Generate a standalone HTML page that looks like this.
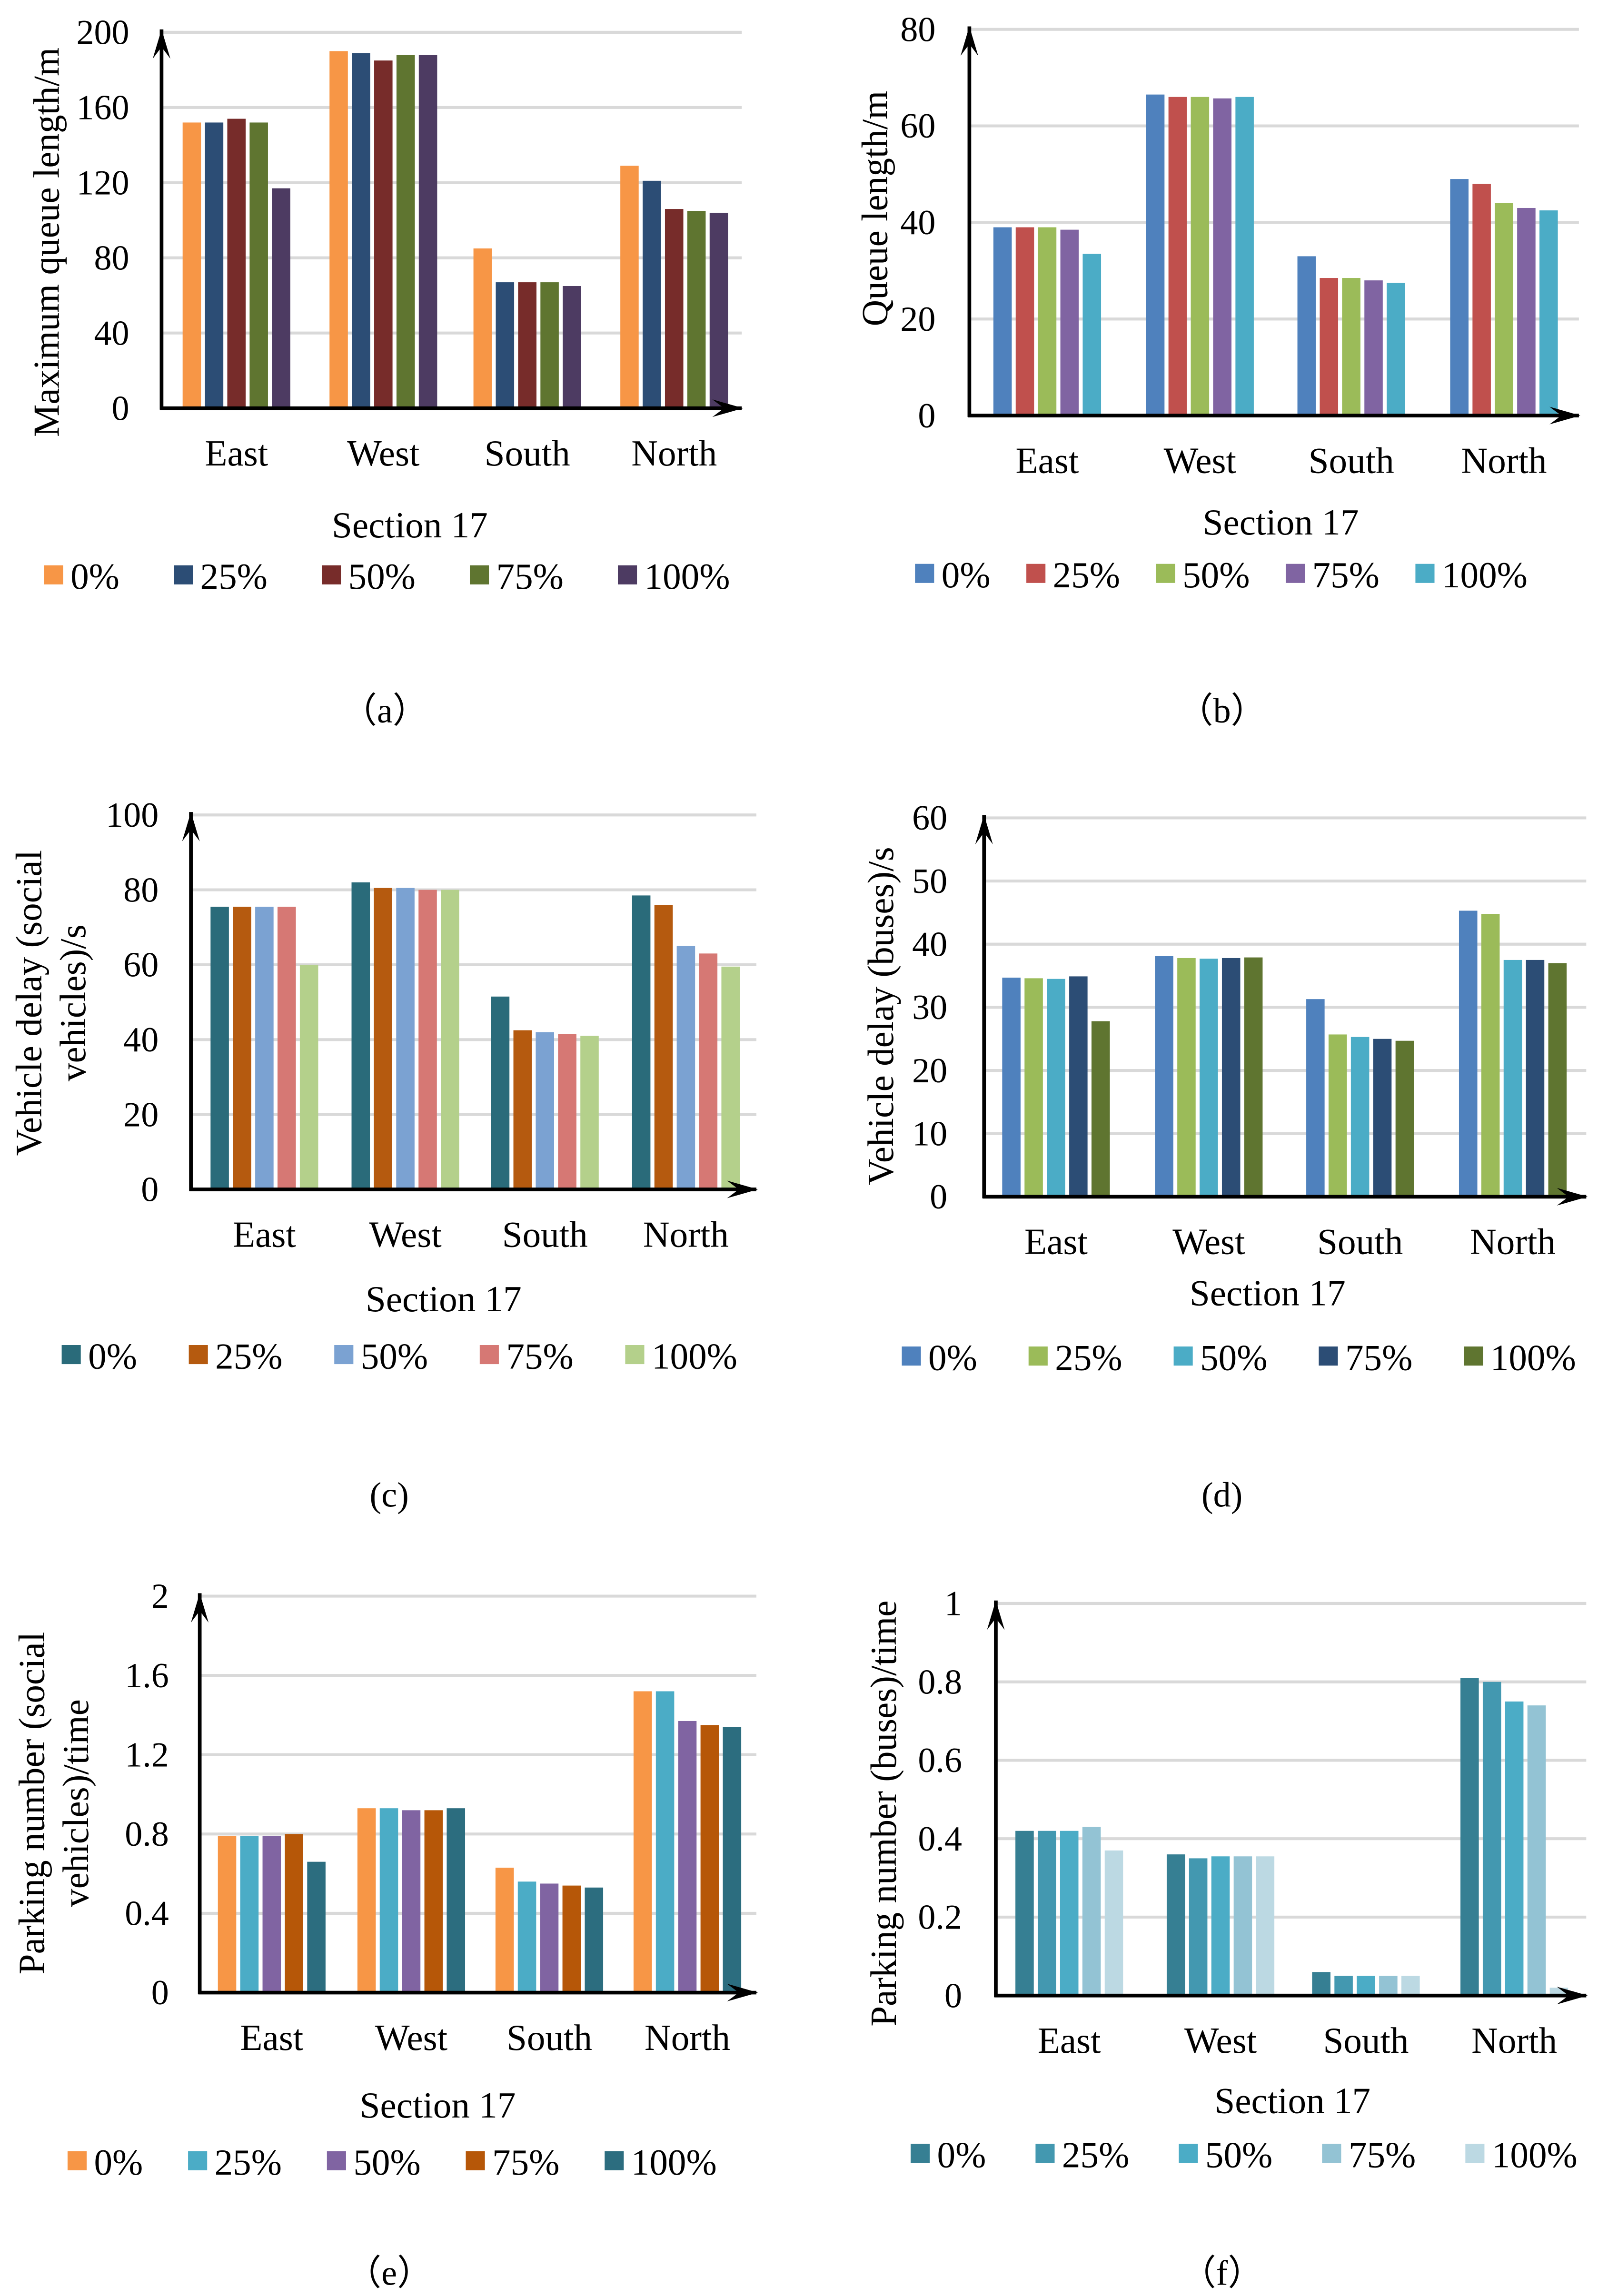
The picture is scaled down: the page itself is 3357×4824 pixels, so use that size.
<!DOCTYPE html>
<html><head><meta charset="utf-8"><style>
html,body{margin:0;padding:0;background:#fff;}
svg, svg text{font-family:"Liberation Serif","Times New Roman",Times,serif;}
</style></head><body>
<svg id="fig" width="3357" height="4819" viewBox="0 0 1088 1562" preserveAspectRatio="none" xmlns="http://www.w3.org/2000/svg"></svg>
<script>
const categories = ["East","West","South","North"];
const seriesNames = ["0%","25%","50%","75%","100%"];
// panel a: max queue length
const aValues = [[152,152,154,152,117],[190,189,185,188,188],[85,67,67,67,65],[129,121,106,105,104]];
const aTicks = [0,40,80,120,160,200];
// panel b: queue length
const bValues = [[39,39,39,38.5,33.5],[66.5,66,66,65.7,66],[33,28.5,28.5,28,27.5],[49,48,44,43,42.5]];
const bTicks = [0,20,40,60,80];
// panel c: vehicle delay social
const cValues = [[75.5,75.5,75.5,75.5,60],[82,80.5,80.5,80,80],[51.5,42.5,42,41.5,41],[78.5,76,65,63,59.5]];
const cTicks = [0,20,40,60,80,100];
// panel d: vehicle delay buses
const dValues = [[34.7,34.6,34.5,34.9,27.8],[38.1,37.8,37.7,37.8,37.9],[31.3,25.7,25.3,25,24.7],[45.3,44.8,37.5,37.5,37]];
const dTicks = [0,10,20,30,40,50,60];
// panel e: parking number social
const eValues = [[0.79,0.79,0.79,0.80,0.66],[0.93,0.93,0.92,0.92,0.93],[0.63,0.56,0.55,0.54,0.53],[1.52,1.52,1.37,1.35,1.34]];
const eTicks = ["0","0.4","0.8","1.2","1.6","2"];
// panel f: parking number buses
const fValues = [[0.42,0.42,0.42,0.43,0.37],[0.36,0.35,0.355,0.355,0.355],[0.06,0.05,0.05,0.05,0.05],[0.81,0.80,0.75,0.74,0.02]];
const fTicks = ["0","0.2","0.4","0.6","0.8","1"];

const NS="http://www.w3.org/2000/svg";
const svg=document.getElementById('fig');
const FF='"Liberation Serif","Times New Roman",Times,serif';
function mk(tag,attrs,parent){const e=document.createElementNS(NS,tag);for(const k in attrs)e.setAttribute(k,attrs[k]);if(tag==='text'&&!attrs['font-family'])e.setAttribute('font-family',FF);(parent||svg).appendChild(e);return e;}

const panels=[
 {id:'a',vals:aValues,ticks:aTicks,ax:110,y0:278,yTop:22,xEnd:505,cx:[161,261,359,459],tickX:88,title:["Maximum queue length/m"],titleX:[32],titleCY:165,secX:279,secY:366,legY:393,legX0:30,legX1:497,cap:"（a）",capX:262,capY:492,colors:["#f79646","#2c4d75","#772c2a","#5f7530","#4d3b62"]},
 {id:'b',vals:bValues,ticks:bTicks,ax:660,y0:283,yTop:20,xEnd:1075,cx:[713,817,920,1024],tickX:637,title:["Queue length/m"],titleX:[596],titleCY:142,secX:872,secY:364,legY:392,legX0:623,legX1:1040,cap:"（b）",capX:832,capY:492,colors:["#4f81bd","#c0504d","#9bbb59","#8064a2","#4bacc6"]},
 {id:'c',vals:cValues,ticks:cTicks,ax:130,y0:810,yTop:555,xEnd:515,cx:[180,276,371,467],tickX:108,title:["Vehicle delay (social","vehicles)/s"],titleX:[20,50],titleCY:683,secX:302,secY:893,legY:924,legX0:42,legX1:502,cap:"(c)",capX:265,capY:1026,colors:["#2a6b7a","#b55a0f","#7ba2d2","#d67874","#b4d08b"]},
 {id:'d',vals:dValues,ticks:dTicks,ax:670,y0:815,yTop:557,xEnd:1080,cx:[719,823,926,1030],tickX:645,title:["Vehicle delay (buses)/s"],titleX:[600],titleCY:692,secX:863,secY:889,legY:925,legX0:614,legX1:1073,cap:"(d)",capX:832,capY:1026,colors:["#4f81bd","#9bbb59","#4bacc6","#2c4d75","#5f7530"]},
 {id:'e',vals:eValues,ticks:eTicks,ax:136,y0:1357,yTop:1087,xEnd:515,cx:[185,280,374,468],tickX:115,title:["Parking number (social","vehicles)/time"],titleX:[22,52],titleCY:1228,secX:298,secY:1442,legY:1473,legX0:46,legX1:488,cap:"（e）",capX:265,capY:1556,colors:["#f79646","#4bacc6","#8064a2","#b65708","#2c6d7f"]},
 {id:'f',vals:fValues,ticks:fTicks,ax:678,y0:1359,yTop:1092,xEnd:1080,cx:[728,831,930,1031],tickX:655,title:["Parking number (buses)/time"],titleX:[602],titleCY:1235,secX:880,secY:1439,legY:1468,legX0:620,legX1:1074,cap:"（f）",capX:832,capY:1556,colors:["#367f93","#4398b0","#4bacc6","#93c3d4","#bcd9e3"]}
];

panels.forEach(p=>{
 const g=mk('g',{});
 
 
 const tv=p.ticks.map(Number);
 const tmax=tv[tv.length-1];
 const yScale=v=>p.y0-(v/tmax)*(p.y0-p.yTop);
 p.ticks.forEach((t,i)=>{
  const y=yScale(tv[i]);
  if(tv[i]>0){const gl=mk('line',{x1:p.ax,x2:p.xEnd,y1:y,y2:y,stroke:'#d9d9d9','stroke-width':2},g);
   
   }
  const tx=mk('text',{x:p.tickX,y:y+8,'text-anchor':'end','font-size':24,fill:'#000'},g);
  tx.textContent=String(p.ticks[i]);
  
  
 });
 const bw=12.5,pitch=15.2;
 p.vals.forEach((grp,ci)=>{
  grp.forEach((v,si)=>{
   const x=p.cx[ci]+(si-2)*pitch-bw/2;
   const y=yScale(v);
   const r=mk('rect',{x:x,y:y,width:bw,height:p.y0-y,fill:p.colors[si]},g);
   
   
  });
  const ct=mk('text',{x:p.cx[ci],y:p.y0+39,'text-anchor':'middle','font-size':25,fill:'#000'},g);
  ct.textContent=categories[ci];
  
  
 });
 const ya=mk('path',{d:`M${p.ax},${p.y0+1} L${p.ax},${p.yTop-2}`,stroke:'#000','stroke-width':2.5,fill:'none'},g);
 
 
 const yh=mk('path',{d:`M${p.ax-6},${p.yTop+18} L${p.ax},${p.yTop-2} L${p.ax+6},${p.yTop+18} L${p.ax},${p.yTop+10}Z`,fill:'#000'},g);
 
 
 const xa=mk('path',{d:`M${p.ax-1},${p.y0} L${p.xEnd},${p.y0}`,stroke:'#000','stroke-width':2.5,fill:'none'},g);
 
 
 const xh=mk('path',{d:`M${p.xEnd-20},${p.y0-6} L${p.xEnd+1},${p.y0} L${p.xEnd-20},${p.y0+6} L${p.xEnd-12},${p.y0}Z`,fill:'#000'},g);
 
 
 p.title.forEach((t,i)=>{
  const tt=mk('text',{x:0,y:0,'text-anchor':'middle','font-size':25,fill:'#000',transform:`translate(${p.titleX[i]+8},${p.titleCY}) rotate(-90)`},g);
  tt.textContent=t;
  
  
 });
 const st=mk('text',{x:p.secX,y:p.secY,'text-anchor':'middle','font-size':25,fill:'#000'},g);
 st.textContent='Section 17';
 
 
 const items=[];let total=0;
 seriesNames.forEach((n,si)=>{
  const lg=mk('g',{},g);
  
  
  const sw=mk('rect',{x:0,y:p.legY-8,width:13,height:13,fill:p.colors[si]},lg);
  
  
  const lt=mk('text',{x:18,y:p.legY+8,'font-size':25,fill:'#000'},lg);
  lt.textContent=n;
  
  
  const w=18+lt.getComputedTextLength();
  items.push({lg,w});total+=w;
 });
 const gap=(p.legX1-p.legX0-total)/(items.length-1);
 let x=p.legX0;
 items.forEach(it=>{it.lg.setAttribute('transform',`translate(${x},0)`);x+=it.w+gap;});
 const cp=mk('text',{x:p.capX,y:p.capY,'text-anchor':'middle','font-size':24,fill:'#000','font-family':'"Liberation Serif","Noto Serif CJK SC",serif'},g);
 cp.textContent=p.cap;
 
 
});
</script>
</body></html>
